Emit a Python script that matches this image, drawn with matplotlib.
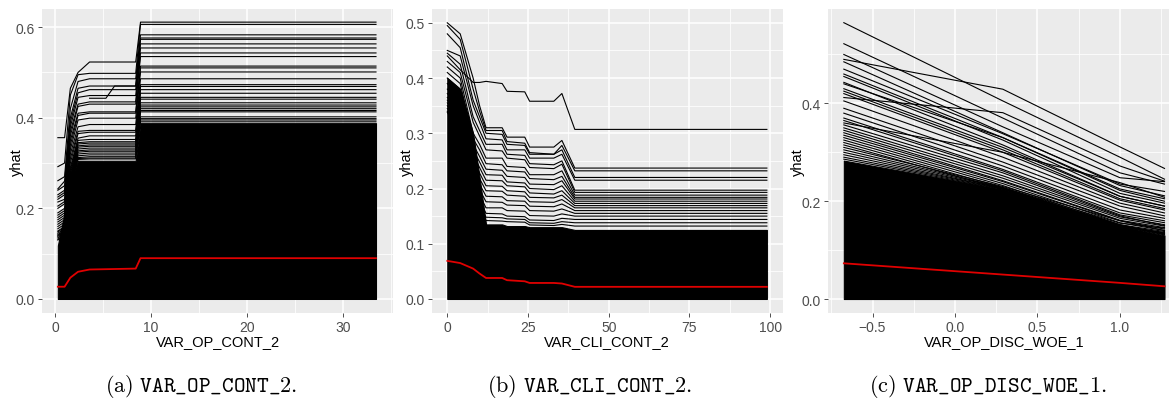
import matplotlib
matplotlib.use("Agg")
from matplotlib import pyplot as plt

# ---- panel (a): VAR_OP_CONT_2 ----
a_x = [0.3, 1.0, 1.6, 2.4, 3.6, 8.4, 8.9, 33.4]
a_lines = [
    [0.356, 0.356, 0.465, 0.500, 0.523, 0.523, 0.611, 0.611],
    [0.292, 0.300, 0.450, 0.495, 0.498, 0.498, 0.606, 0.606],
    [0.261, 0.270, 0.420, 0.480, 0.486, 0.486, 0.583, 0.583],
    [0.243, 0.260, 0.400, 0.465, 0.470, 0.470, 0.576, 0.576],
    [0.240, 0.250, 0.390, 0.455, 0.462, 0.462, 0.563, 0.563],
    [0.230, 0.240, 0.380, 0.445, 0.449, 0.449, 0.554, 0.554],
    [0.225, 0.235, 0.370, 0.430, 0.435, 0.435, 0.543, 0.543],
    [0.220, 0.230, 0.360, 0.425, 0.430, 0.430, 0.535, 0.535],
    [0.214, 0.220, 0.350, 0.410, 0.413, 0.413, 0.514, 0.514],
    [0.205, 0.215, 0.340, 0.405, 0.410, 0.410, 0.510, 0.510],
    [0.200, 0.210, 0.330, 0.395, 0.399, 0.399, 0.501, 0.501],
    [0.190, 0.200, 0.320, 0.380, 0.385, 0.385, 0.486, 0.486],
    [0.185, 0.195, 0.310, 0.370, 0.372, 0.372, 0.473, 0.473],
    [0.180, 0.190, 0.300, 0.365, 0.368, 0.368, 0.469, 0.469],
    [0.175, 0.185, 0.290, 0.355, 0.360, 0.360, 0.462, 0.462],
    [0.170, 0.180, 0.285, 0.350, 0.352, 0.352, 0.454, 0.454],
    [0.165, 0.175, 0.280, 0.345, 0.347, 0.347, 0.445, 0.445],
    [0.160, 0.170, 0.275, 0.342, 0.344, 0.344, 0.441, 0.441],
    [0.155, 0.165, 0.270, 0.338, 0.340, 0.340, 0.433, 0.433],
    [0.150, 0.160, 0.265, 0.335, 0.337, 0.337, 0.428, 0.428],
    [0.148, 0.158, 0.262, 0.331, 0.333, 0.333, 0.424, 0.424],
    [0.145, 0.155, 0.260, 0.327, 0.329, 0.329, 0.420, 0.420],
    [0.142, 0.152, 0.258, 0.324, 0.326, 0.326, 0.416, 0.416],
    [0.140, 0.150, 0.255, 0.320, 0.322, 0.322, 0.413, 0.413],
    [0.138, 0.148, 0.252, 0.316, 0.318, 0.318, 0.402, 0.402],
    [0.135, 0.145, 0.250, 0.312, 0.314, 0.314, 0.398, 0.398],
    [0.132, 0.142, 0.248, 0.310, 0.311, 0.311, 0.395, 0.395],
    [0.130, 0.140, 0.245, 0.308, 0.309, 0.309, 0.391, 0.391],
]
a_step_x = [3.6, 5.3, 6.2, 8.4, 8.9, 33.4]
a_step_y = [0.443, 0.443, 0.470, 0.470, 0.573, 0.573]
a_dense = [0.118, 0.19, 0.26, 0.305, 0.305, 0.305, 0.388, 0.388]
a_mean = [0.027, 0.027, 0.047, 0.060, 0.065, 0.067, 0.090, 0.090]

# ---- panel (b): VAR_CLI_CONT_2 ----
b_x = [0, 4, 8, 10, 12, 17, 18.5, 24, 25.5, 33, 35.5, 39.5, 99]
b_lines = [
    [0.440, 0.415, 0.392, 0.392, 0.394, 0.390, 0.376, 0.375, 0.358, 0.358, 0.372, 0.307, 0.307],
    [0.500, 0.480, 0.400, 0.350, 0.310, 0.310, 0.293, 0.293, 0.275, 0.275, 0.287, 0.237, 0.237],
    [0.495, 0.470, 0.380, 0.340, 0.305, 0.305, 0.285, 0.282, 0.265, 0.262, 0.278, 0.232, 0.232],
    [0.480, 0.455, 0.360, 0.330, 0.300, 0.298, 0.280, 0.278, 0.262, 0.262, 0.270, 0.220, 0.220],
    [0.450, 0.440, 0.350, 0.320, 0.290, 0.288, 0.270, 0.270, 0.255, 0.255, 0.262, 0.215, 0.215],
    [0.445, 0.425, 0.330, 0.305, 0.280, 0.280, 0.262, 0.260, 0.245, 0.243, 0.250, 0.197, 0.197],
    [0.430, 0.410, 0.320, 0.295, 0.270, 0.268, 0.255, 0.252, 0.238, 0.236, 0.244, 0.193, 0.193],
    [0.420, 0.400, 0.300, 0.280, 0.255, 0.255, 0.240, 0.238, 0.225, 0.225, 0.232, 0.188, 0.188],
    [0.410, 0.390, 0.290, 0.270, 0.245, 0.243, 0.232, 0.230, 0.218, 0.216, 0.222, 0.184, 0.184],
    [0.400, 0.380, 0.280, 0.258, 0.235, 0.233, 0.222, 0.220, 0.208, 0.207, 0.214, 0.181, 0.181],
    [0.390, 0.365, 0.270, 0.248, 0.225, 0.224, 0.212, 0.210, 0.200, 0.198, 0.205, 0.177, 0.177],
    [0.380, 0.355, 0.262, 0.238, 0.215, 0.214, 0.205, 0.203, 0.192, 0.190, 0.196, 0.173, 0.173],
    [0.372, 0.345, 0.255, 0.228, 0.205, 0.204, 0.196, 0.194, 0.184, 0.183, 0.188, 0.169, 0.169],
    [0.365, 0.338, 0.248, 0.218, 0.196, 0.195, 0.188, 0.186, 0.176, 0.175, 0.180, 0.165, 0.165],
    [0.360, 0.330, 0.240, 0.208, 0.186, 0.185, 0.178, 0.177, 0.168, 0.167, 0.172, 0.160, 0.160],
    [0.355, 0.322, 0.232, 0.198, 0.176, 0.175, 0.170, 0.169, 0.160, 0.159, 0.163, 0.155, 0.155],
    [0.350, 0.315, 0.225, 0.188, 0.165, 0.165, 0.160, 0.159, 0.151, 0.150, 0.154, 0.150, 0.150],
    [0.345, 0.308, 0.218, 0.178, 0.155, 0.154, 0.150, 0.149, 0.143, 0.142, 0.146, 0.144, 0.144],
    [0.340, 0.300, 0.210, 0.170, 0.148, 0.147, 0.145, 0.144, 0.138, 0.137, 0.140, 0.138, 0.138],
    [0.338, 0.295, 0.205, 0.165, 0.142, 0.141, 0.140, 0.139, 0.134, 0.133, 0.135, 0.132, 0.132],
]
b_dense = [0.40, 0.38, 0.30, 0.22, 0.135, 0.135, 0.132, 0.132, 0.13, 0.13, 0.13, 0.125, 0.125]
b_mean = [0.069, 0.065, 0.055, 0.046, 0.038, 0.038, 0.034, 0.032, 0.029, 0.029, 0.028, 0.022, 0.022]

# ---- panel (c): VAR_OP_DISC_WOE_1 ----
c_x = [-0.674, 0.29, 1.0, 1.27]
c_lines = [
    [0.565, 0.405, 0.290, 0.245],
    [0.522, 0.370, 0.258, 0.235],
    [0.500, 0.352, 0.248, 0.240],
    [0.490, 0.429, 0.311, 0.267],
    [0.485, 0.340, 0.232, 0.211],
    [0.470, 0.338, 0.235, 0.220],
    [0.460, 0.330, 0.222, 0.200],
    [0.455, 0.325, 0.216, 0.196],
    [0.443, 0.315, 0.210, 0.190],
    [0.440, 0.330, 0.225, 0.205],
    [0.430, 0.310, 0.210, 0.190],
    [0.425, 0.305, 0.205, 0.185],
    [0.412, 0.381, 0.272, 0.241],
    [0.420, 0.300, 0.202, 0.182],
    [0.405, 0.290, 0.196, 0.176],
    [0.390, 0.280, 0.190, 0.170],
    [0.380, 0.272, 0.182, 0.165],
    [0.370, 0.265, 0.176, 0.160],
    [0.365, 0.262, 0.172, 0.156],
    [0.360, 0.300, 0.238, 0.208],
    [0.356, 0.258, 0.170, 0.150],
    [0.350, 0.252, 0.168, 0.152],
    [0.345, 0.247, 0.165, 0.149],
    [0.340, 0.242, 0.161, 0.146],
    [0.335, 0.240, 0.160, 0.143],
    [0.330, 0.236, 0.156, 0.140],
    [0.325, 0.232, 0.152, 0.138],
    [0.320, 0.228, 0.150, 0.136],
    [0.315, 0.225, 0.148, 0.134],
    [0.310, 0.230, 0.160, 0.140],
    [0.305, 0.228, 0.155, 0.145],
    [0.300, 0.227, 0.150, 0.135],
    [0.295, 0.226, 0.152, 0.133],
    [0.290, 0.226, 0.151, 0.132],
    [0.286, 0.225, 0.150, 0.131],
]
c_dense = [0.283, 0.225, 0.15, 0.13]
c_mean = [0.073, 0.050, 0.033, 0.026]

captions = ["(a)", "(b)", "(c)"]
var_names = ["VAR_OP_CONT_2", "VAR_CLI_CONT_2", "VAR_OP_DISC_WOE_1"]
caption_x = [201, 590, 988]

plt.rcParams["font.family"] = ["Liberation Sans", "DejaVu Sans"]
plt.rcParams["mathtext.fontset"] = "cm"

W, H = 1169, 402
fig = plt.figure(figsize=(W / 100, H / 100), dpi=100)

panels = [
    dict(px=(42, 393), xlim=(-1.35, 35.17), ylim=(-0.031, 0.640),
         xt=[0, 10, 20, 30], xm=[5, 15, 25, 35], yt=[0.0, 0.2, 0.4, 0.6], ym=[0.1, 0.3, 0.5],
         ytl=["0.0", "0.2", "0.4", "0.6"], xtl=["0", "10", "20", "30"], ylab_x=17,
         x=a_x, lines=a_lines, dense=a_dense, mean=a_mean),
    dict(px=(431.7, 782.7), xlim=(-4.83, 103.9), ylim=(-0.0254, 0.525),
         xt=[0, 25, 50, 75, 100], xm=[12.5, 37.5, 62.5, 87.5], yt=[0.0, 0.1, 0.2, 0.3, 0.4, 0.5],
         ym=[0.05, 0.15, 0.25, 0.35, 0.45], ylab_x=406.7,
         ytl=["0.0", "0.1", "0.2", "0.3", "0.4", "0.5"], xtl=["0", "25", "50", "75", "100"],
         x=b_x, lines=b_lines, dense=b_dense, mean=b_mean),
    dict(px=(828, 1180), xlim=(-0.770, 1.364), ylim=(-0.0286, 0.593),
         xt=[-0.5, 0.0, 0.5, 1.0], xm=[-0.75, -0.25, 0.25, 0.75, 1.25], yt=[0.0, 0.2, 0.4],
         ym=[0.1, 0.3, 0.5], ylab_x=798,
         ytl=["0.0", "0.2", "0.4"], xtl=["\u22120.5", "0.0", "0.5", "1.0"],
         x=c_x, lines=c_lines, dense=c_dense, mean=c_mean),
]

top_px, bot_px = 10, 314
for i, p in enumerate(panels):
    x0, x1 = p["px"]
    ax = fig.add_axes([x0 / W, 1 - bot_px / H, (x1 - x0) / W, (bot_px - top_px) / H])
    ax.set_facecolor("#EBEBEB")
    for s in ax.spines.values():
        s.set_visible(False)
    ax.set_xlim(*p["xlim"])
    ax.set_ylim(*p["ylim"])
    ax.set_xticks(p["xt"])
    ax.set_xticklabels(p["xtl"])
    ax.set_yticks(p["yt"])
    ax.set_yticklabels(p["ytl"])
    ax.set_xticks(p["xm"], minor=True)
    ax.set_yticks(p["ym"], minor=True)
    ax.grid(which="major", color="white", lw=1.1)
    ax.grid(which="minor", color="white", lw=0.55)
    ax.set_axisbelow(True)
    ax.tick_params(which="major", length=3, width=0.6, color="#333333",
                   labelcolor="#4D4D4D", labelsize=10, pad=2)
    ax.tick_params(which="minor", length=0)

    ax.fill_between(p["x"], 0, p["dense"], color="black", lw=0.8)
    for row in p["lines"]:
        ax.plot(p["x"], row, color="black", lw=0.8)
    if i == 0:
        ax.plot(a_step_x, a_step_y, color="black", lw=0.8)
    ax.plot(p["x"], p["mean"], color="#E00000", lw=1.3)

    ax.set_ylabel("yhat", fontsize=10.5, color="black")
    ax.yaxis.set_label_coords((p["ylab_x"] - x0) / (x1 - x0), 0.5)
    ax.yaxis.label.set_va("center")
    ax.set_xlabel(var_names[i], fontsize=10.5, color="black")
    ax.xaxis.set_label_coords(0.5, (bot_px - 342) / (bot_px - top_px))
    ax.xaxis.label.set_va("center")

    name = var_names[i].replace("_", r"\_")
    fig.text(caption_x[i] / W, 1 - 387 / H,
             r"$\mathrm{%s}\ \mathtt{%s}\mathrm{.}$" % (captions[i], name),
             ha="center", va="center", fontsize=16)

fig.savefig("out.png", dpi=100)
